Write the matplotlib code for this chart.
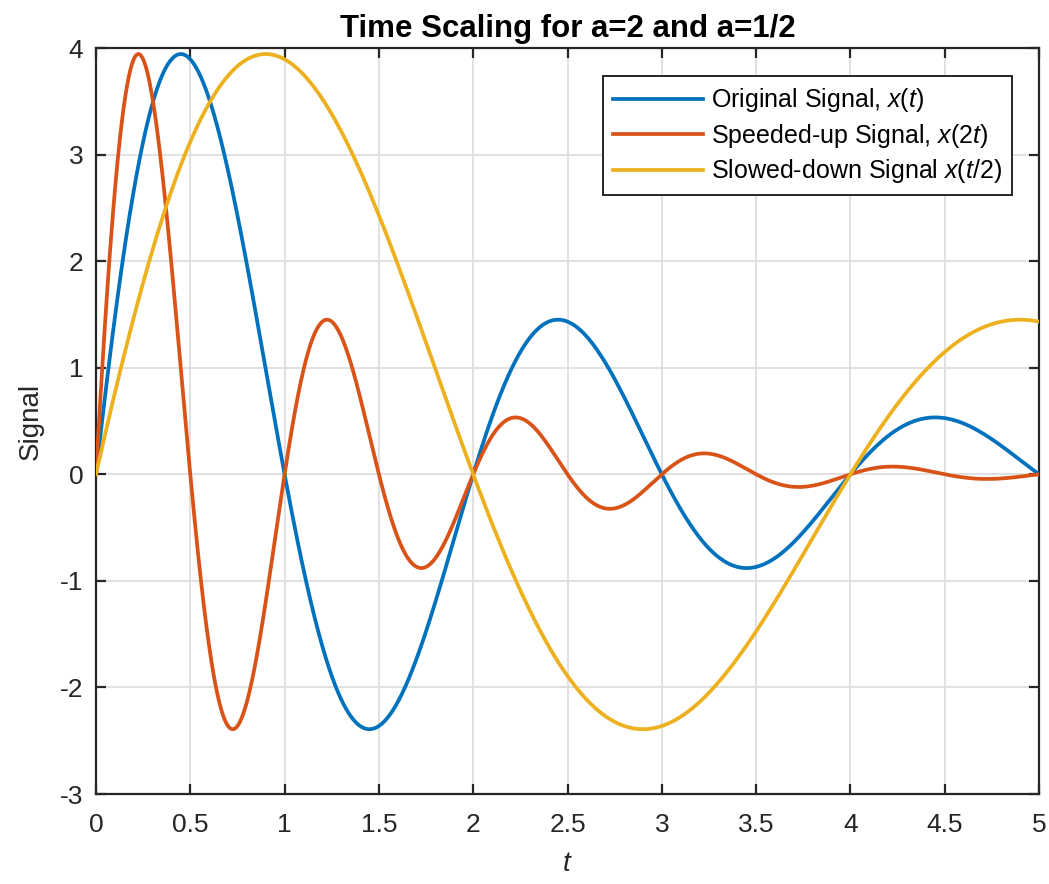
import numpy as np
import matplotlib
matplotlib.use("Agg")
import matplotlib.pyplot as plt

# Signal: x(t) = A * exp(-b t) * sin(w t)
# peaks 3.95, -2.4, 1.45, -0.88, 0.53 at t = 0.45, 1.45, ... ; zeros at integers
amp = 5.0
decay = 0.5
omega = np.pi
t_start, t_stop = 0.0, 5.0
scales = [1.0, 2.0, 0.5]
labels = ["Original Signal, $\\mathit{x}(\\mathit{t})$",
          "Speeded-up Signal, $\\mathit{x}(2\\mathit{t})$",
          "Slowed-down Signal $\\mathit{x}(\\mathit{t}/2)$"]
colors = ["#0072BD", "#D95319", "#EDB120"]
xticks = [0, 0.5, 1, 1.5, 2, 2.5, 3, 3.5, 4, 4.5, 5]
yticks = [-3, -2, -1, 0, 1, 2, 3, 4]

plt.rcParams["font.family"] = ["Liberation Sans", "DejaVu Sans"]
plt.rcParams["mathtext.fontset"] = "custom"
plt.rcParams["mathtext.rm"] = "Liberation Sans"
plt.rcParams["mathtext.it"] = "Liberation Sans:italic"
plt.rcParams["axes.unicode_minus"] = False

def x(t):
    return amp * np.exp(-decay * t) * np.sin(omega * t)

t = np.linspace(t_start, t_stop, 2001)

fig = plt.figure(figsize=(10.49, 8.84), dpi=100)
ax = fig.add_axes([0.0915, 0.1018, 0.899, 0.8439])

for a, lab, c in zip(scales, labels, colors):
    ax.plot(t, x(a * t), color=c, lw=2.7, label=lab, zorder=3)

ax.set_xlim(0, 5)
ax.set_ylim(-3, 4)
ax.set_xticks(xticks)
ax.set_xticklabels([f"{v:g}" for v in xticks])
ax.set_yticks(yticks)
ax.grid(True, color="#dedede", lw=1.3)
ax.set_axisbelow(True)

for s in ax.spines.values():
    s.set_color("#262626")
    s.set_linewidth(1.6)
ax.tick_params(direction="in", length=7, width=1.6, color="#262626",
               labelcolor="#262626", labelsize=19, top=True, right=True)
ax.tick_params(axis="x", pad=14)
ax.tick_params(axis="y", pad=9)

ax.set_xlabel("$\\mathit{t}$", fontsize=20, color="#262626", labelpad=10)
ax.set_ylabel("Signal", fontsize=20, color="#262626", labelpad=12)
ax.set_title("Time Scaling for a=2 and a=1/2", fontsize=22.5, fontweight="bold",
             pad=8)

leg = ax.legend(loc="upper right", bbox_to_anchor=(0.971, 0.962), fontsize=18,
                fancybox=False, edgecolor="#262626", framealpha=1,
                handlelength=3.6, handletextpad=0.3, labelspacing=0.3,
                borderpad=0.4, borderaxespad=0)
leg.get_frame().set_linewidth(1.4)

fig.savefig("out.png", dpi=100)
